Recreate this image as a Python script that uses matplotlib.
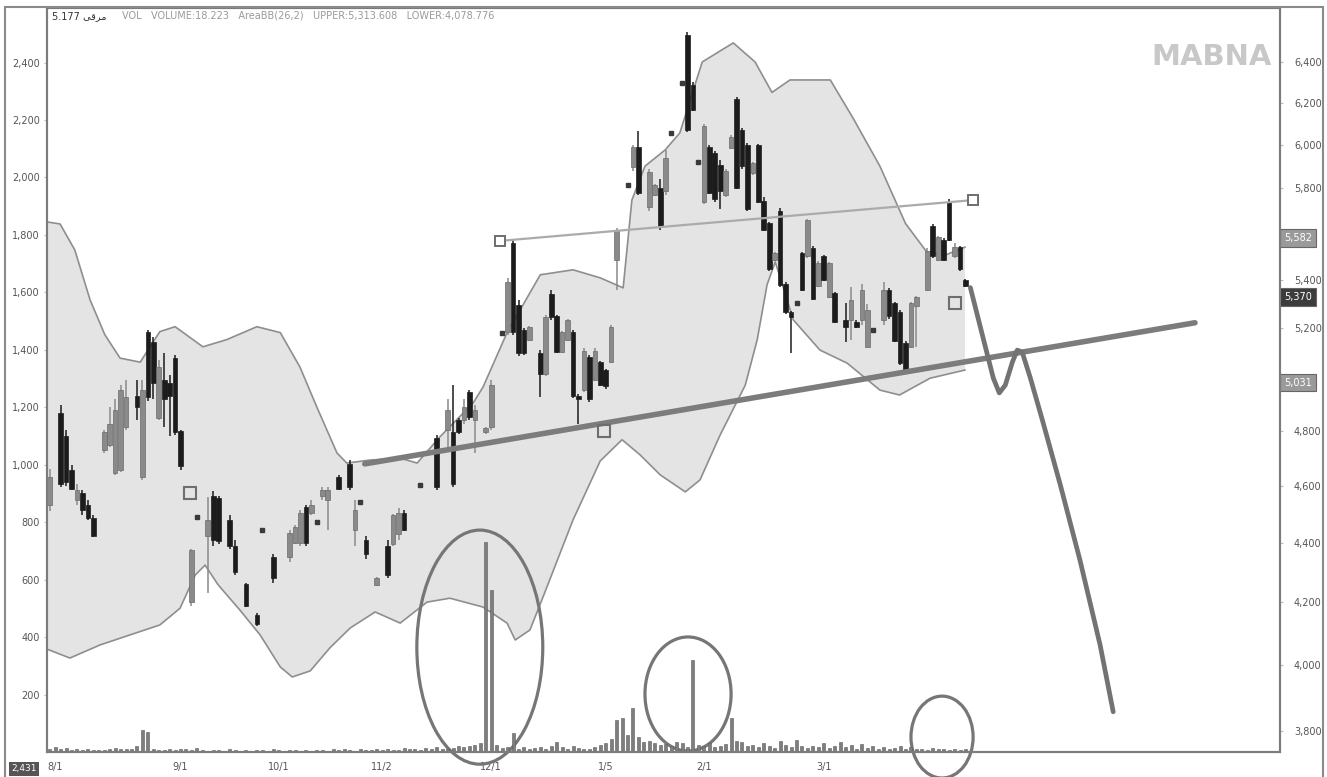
import numpy as np
import matplotlib
matplotlib.use("Agg")
import matplotlib.pyplot as plt
from matplotlib.patches import Ellipse, Rectangle
from matplotlib.ticker import FixedLocator, NullLocator, FuncFormatter

# daily candles: trading-day index and prices (right, log axis)
day = [0, 2, 3, 4, 5, 6, 7, 8,
       10, 11, 12, 13, 14, 16, 17, 18, 19, 20, 21, 22, 23, 24,
       26, 27, 29, 30, 31, 33, 34, 36, 38, 39, 41,
       44, 45, 46, 47, 48, 49, 50, 51, 53, 55, 56, 57, 58, 60, 62, 63, 64, 65, 68,
       71, 73, 74, 75, 76, 77, 78, 80, 81,
       83, 84, 85, 86, 87, 88, 90, 91, 92, 93, 94, 95, 96, 97, 98, 99, 100, 101, 102, 103, 104,
       106, 107, 108, 110, 111, 112, 113, 114, 116, 117, 118, 119, 120, 121, 122, 123, 124, 125,
       126, 127, 128, 129, 130, 131, 132, 133,
       134, 135, 136, 137, 138, 139, 140, 141, 142, 143, 144, 146, 147, 148, 149, 150, 151, 153,
       154, 155, 156, 157, 158, 159, 161, 162, 163, 164, 165, 166, 167, 168]

open_ = [4530, 4870, 4780, 4655, 4550, 4575, 4530, 4485,
         4730, 4750, 4645, 4655, 4815, 4935, 4630, 5185, 5145, 4850, 4995, 4985, 5080, 4800,
         4200, 4490, 4425, 4565, 4555, 4480, 4390, 4260, 4160, 4444, 4350,
         4350, 4400, 4400, 4525, 4505, 4472, 4565, 4550, 4630, 4680, 4445, 4542, 4410, 4258, 4390, 4395, 4430, 4505, 4603,
         4775, 4805, 4795, 4840, 4840, 4950, 4840, 4795, 4815,
         5183, 5185, 5560, 5295, 5195, 5155, 5100, 5020, 5340, 5250, 5105, 5155, 5185, 4935, 4955, 5085, 4995, 5065, 5035, 5065, 5485,
         5815, 5895, 5990, 5715, 5770, 5800, 5790, 6056, 6296, 6535, 6285, 5920, 5740, 5990, 5960, 5905, 5770, 5985,
         6220, 6070, 6000, 5870, 6000, 5745, 5645, 5485,
         5700, 5385, 5265, 5305, 5515, 5500, 5535, 5375, 5500, 5330, 5345, 5235, 5235, 5227, 5235, 5125, 5195, 5235,
         5360, 5305, 5265, 5140, 5125, 5290, 5360, 5630, 5485, 5570, 5740, 5500, 5540, 5400]

high = [4660, 4900, 4805, 4675, 4605, 4585, 4550, 4495,
        4805, 4890, 4920, 4975, 4995, 4995, 4995, 5195, 5165, 5075, 5100, 5015, 5095, 4805,
        4380, 4490, 4560, 4580, 4565, 4495, 4410, 4265, 4165, 4444, 4360,
        4445, 4460, 4515, 4530, 4550, 4472, 4595, 4595, 4640, 4695, 4550, 4542, 4425, 4285, 4410, 4500, 4520, 4515, 4603,
        4785, 4920, 4975, 4850, 4920, 4955, 4900, 4815, 4995,
        5183, 5410, 5570, 5315, 5200, 5210, 5115, 5255, 5360, 5255, 5190, 5240, 5195, 4940, 5120, 5095, 5120, 5070, 5040, 5215, 5625,
        5815, 6000, 6065, 5890, 5820, 5840, 5975, 6056, 6296, 6550, 6300, 5920, 6100, 6000, 5970, 5930, 5890, 6045,
        6230, 6080, 6010, 5920, 6005, 5760, 5650, 5520,
        5710, 5390, 5270, 5305, 5520, 5665, 5545, 5480, 5505, 5475, 5350, 5305, 5370, 5235, 5385, 5300, 5195, 5390,
        5365, 5310, 5275, 5150, 5310, 5335, 5535, 5640, 5590, 5580, 5750, 5560, 5545, 5405]

low = [4510, 4595, 4600, 4585, 4530, 4495, 4480, 4420,
       4720, 4740, 4640, 4650, 4805, 4840, 4620, 4915, 4920, 4840, 4815, 4780, 4785, 4655,
       4190, 4490, 4230, 4390, 4395, 4380, 4290, 4185, 4125, 4444, 4265,
       4335, 4395, 4390, 4390, 4495, 4472, 4550, 4445, 4585, 4585, 4390, 4542, 4345, 4255, 4280, 4390, 4410, 4440, 4603,
       4585, 4730, 4595, 4790, 4825, 4840, 4720, 4790, 4805,
       5183, 5175, 5175, 5090, 5095, 5150, 4930, 5010, 5235, 5100, 5100, 5150, 4925, 4825, 4950, 4910, 4990, 4970, 4960, 5060, 5360,
       5815, 5880, 5770, 5700, 5765, 5615, 5770, 6056, 6296, 6060, 6160, 5920, 5730, 5775, 5740, 5705, 5760, 5980,
       5795, 5890, 5700, 5860, 5735, 5610, 5440, 5480,
       5370, 5260, 5100, 5305, 5355, 5495, 5315, 5370, 5395, 5325, 5220, 5145, 5155, 5200, 5215, 5120, 5195, 5215,
       5240, 5145, 5055, 5030, 5120, 5125, 5355, 5495, 5480, 5480, 5565, 5495, 5440, 5370]

close = [4630, 4605, 4615, 4590, 4585, 4515, 4485, 4425,
         4795, 4825, 4880, 4955, 4930, 4890, 4955, 4930, 4985, 5045, 4920, 4935, 4795, 4670,
         4375, 4490, 4480, 4410, 4405, 4390, 4300, 4190, 4130, 4444, 4280,
         4435, 4455, 4505, 4400, 4530, 4472, 4585, 4585, 4590, 4595, 4515, 4542, 4360, 4280, 4290, 4495, 4505, 4445, 4603,
         4595, 4880, 4605, 4795, 4890, 4855, 4880, 4810, 4975,
         5183, 5390, 5185, 5100, 5100, 5205, 5020, 5245, 5245, 5105, 5185, 5235, 4935, 4920, 5110, 4920, 5110, 4975, 4970, 5205, 5615,
         5815, 5990, 5780, 5875, 5815, 5630, 5940, 6056, 6296, 6070, 6165, 5920, 6090, 5780, 5750, 5790, 5880, 6035,
         5800, 5900, 5705, 5915, 5740, 5615, 5445, 5515,
         5380, 5265, 5245, 5305, 5360, 5660, 5320, 5470, 5400, 5470, 5225, 5205, 5315, 5207, 5360, 5275, 5195, 5360,
         5250, 5150, 5060, 5035, 5305, 5330, 5525, 5500, 5585, 5485, 5570, 5540, 5445, 5375]

# daily volume (left axis units), one per trading day 0..168
volume = [12, 18, 10, 15, 8, 12, 6, 10, 8, 6,
          8, 10, 14, 12, 10, 9, 20, 75, 70, 12,
          8, 6, 10, 7, 12, 9, 6, 14, 8, 5,
          6, 8, 5, 10, 6, 4, 7, 5, 8, 6,
          5, 9, 6, 4, 8, 6, 5, 7, 4, 6,
          8, 5, 10, 6, 12, 7, 5, 9, 6, 8,
          10, 7, 12, 8, 6, 14, 9, 11, 8, 15,
          10, 18, 12, 9, 14, 20, 16, 22, 25, 30,
          730, 565, 25, 14, 18, 66, 12, 16, 10, 14,
          18, 12, 22, 35, 16, 10, 20, 14, 12, 9,
          18, 25, 30, 45, 110, 118, 60, 153, 52, 35,
          40, 30, 25, 28, 22, 35, 30, 18, 320, 25,
          20, 30, 18, 22, 28, 118, 40, 35, 20, 25,
          18, 30, 22, 15, 40, 25, 18, 42, 20, 15,
          22, 18, 30, 14, 20, 35, 18, 25, 12, 28,
          15, 20, 12, 18, 10, 14, 22, 12, 16, 10,
          12, 8, 14, 10, 12, 8, 10, 6, 9]

# bollinger band outline
upper_day = [-0.5, 1.9, 4.6, 7.4, 10.1, 12.9, 16.6, 20.2, 23, 28.1, 32.5, 38, 42.3, 45.9, 49,
             52.7, 54.5, 58.8, 64.3, 67.4, 71.6, 77.7, 79.5, 83.9, 90, 96, 101, 105.2, 106.8,
             109.2, 112.9, 115.6, 119.7, 125.4, 129.4, 132.5, 135.8, 143.2, 147.4, 152.3, 157,
             160.9, 164.3, 167.9]
upper_band = [5650, 5641, 5528, 5317, 5175, 5081, 5065, 5187, 5207, 5126, 5155, 5207, 5183, 5046, 4891,
              4719, 4682, 4693, 4700, 4682, 4779, 4907, 4968, 5183, 5422, 5443, 5409, 5367, 5747,
              5901, 5976, 6056, 6400, 6496, 6400, 6250, 6311, 6311, 6125, 5901, 5643,
              5519, 5506, 5540]
lower_day = [-0.5, 3.7, 9.2, 14.7, 20.2, 23.9, 26.7, 28.5, 30.9, 34.9, 38.6, 42.3, 44.5, 47.8, 51.4,
             55.1, 59.7, 64.3, 69.2, 73.4, 79.5, 83.9, 85.4, 88.1, 90.5, 96, 101, 105, 108.3,
             112, 116.6, 119.3, 123, 127.6, 129.8, 131.6, 133.1, 136.4, 141.3, 146.3, 152.3,
             155.9, 161.5, 167.9]
lower_band = [4050, 4022, 4063, 4095, 4127, 4181, 4291, 4324, 4258, 4175, 4095, 3994, 3963, 3982, 4054,
              4117, 4169, 4133, 4201, 4214, 4185, 4133, 4079, 4111, 4218, 4479, 4690, 4768, 4712,
              4639, 4578, 4621, 4786, 4975, 5155, 5380, 5477, 5235, 5113, 5061, 4956,
              4937, 5002, 5034]

# hand-drawn analysis marks
support_day = [57.8, 210.1]
support_price = [4679, 5223]
resist_day = [82.6, 169.4]
resist_price = [5567, 5747]
mark_day = [25.7, 101.7, 166.1]
mark_price = [4574, 4801, 5305]
proj_day = [168.9, 170.3, 171.8, 173.1, 174.2, 175.3, 176.6, 177.5, 178.4, 179.9, 182.1,
            185.4, 189.0, 192.7, 195.1]
proj_price = [5368, 5243, 5113, 5003, 4945, 4975, 5065, 5113, 5105, 5003, 4842,
              4603, 4341, 4063, 3857]
ring_day = [78.9, 117.1, 163.7]
ring_vol = [365, 202, 52]
ring_w = [23.1, 15.8, 11.4]
ring_h = [815, 397, 285]

date_pos = [1, 24, 42, 61, 81, 102, 120, 142]
date_labels = ['8/1', '9/1', '10/1', '11/2', '12/1', '1/5', '2/1', '3/1']
price_ticks = [3800, 4000, 4200, 4400, 4600, 4800, 5200, 5400, 5800, 6000, 6200, 6400]
vol_ticks = [200, 400, 600, 800, 1000, 1200, 1400, 1600, 1800, 2000, 2200, 2400]
tag_price = [5580, 5330, 4985]
tag_text = ['5,582', '5,370', '5,031']
tag_color = ['#9a9a9a', '#3c3c3c', '#9a9a9a']

assert len(day) == len(open_) == len(high) == len(low) == len(close)

W, H = 1327, 777
fig = plt.figure(figsize=(W / 100, H / 100), dpi=100)
rect = [47 / W, 25 / H, 1233 / W, 744 / H]
ax = fig.add_axes(rect)
axv = ax.twinx()
ax.yaxis.tick_right()
axv.yaxis.tick_left()
axv.yaxis.set_label_position('left')

ax.set_yscale('log')
ax.set_ylim(3738, 6675)
ax.set_xlim(-0.5, 225.7)
axv.set_ylim(0, 2590)

# band
bx = upper_day + lower_day[::-1]
by = upper_band + lower_band[::-1]
ax.fill(bx, by, color='#e4e4e4', lw=0, zorder=0)
ax.plot(upper_day, upper_band, color='#8e8e8e', lw=1.2, zorder=1)
ax.plot(lower_day, lower_band, color='#8e8e8e', lw=1.2, zorder=1)

# candles
d = np.array(day, dtype=float)
o = np.array(open_, dtype=float)
h = np.array(high, dtype=float)
l = np.array(low, dtype=float)
c = np.array(close, dtype=float)
dot = h == l
rising = c >= o
col = np.where(rising, '#8a8a8a', '#1c1c1c')
bar = ~dot
ax.vlines(d[bar], l[bar], h[bar], colors=col[bar], lw=1.1, zorder=3)
ax.bar(d[bar], np.abs(c - o)[bar], bottom=np.minimum(o, c)[bar], width=0.85,
       color=col[bar], edgecolor=np.where(rising, '#6a6a6a', '#1c1c1c')[bar], lw=0.5, zorder=4)
ax.plot(d[dot], c[dot], 's', ms=2.6, color='#3a3a3a', zorder=4)

# trend lines and marks
ax.plot(resist_day, resist_price, color='#ababab', lw=1.6, zorder=5)
ax.plot(resist_day, resist_price, 's', ms=7, mfc='white', mec='#6e6e6e', mew=1.4, zorder=6)
ax.plot(mark_day, mark_price, 's', ms=9, mfc='none', mec='#6e6e6e', mew=1.5, zorder=6)
ax.plot(support_day, support_price, color='#7c7c7c', lw=4, solid_capstyle='round', zorder=5)
ax.plot(proj_day, proj_price, color='#737373', lw=3.4, solid_capstyle='round',
        solid_joinstyle='round', zorder=5)

# volume
axv.bar(range(len(volume)), volume, width=0.55, color='#7e7e7e', edgecolor='#5a5a5a',
        lw=0.4, zorder=2)
for cx, cy, ew, eh in zip(ring_day, ring_vol, ring_w, ring_h):
    axv.add_patch(Ellipse((cx, cy), ew, eh, fill=False, ec='#767676', lw=2.3, clip_on=False))

# axes styling
fmt = FuncFormatter(lambda v, p: f'{int(round(v)):,}')
ax.yaxis.set_major_locator(FixedLocator(price_ticks))
ax.yaxis.set_minor_locator(NullLocator())
ax.yaxis.set_major_formatter(fmt)
ax.yaxis.set_minor_formatter(FuncFormatter(lambda v, p: ''))
ax.tick_params(axis='y', which='both', right=True, left=False, labelright=True, labelleft=False,
               labelsize=7, labelcolor='#555555', color='#bbbbbb', length=2, pad=8)
axv.set_yticks(vol_ticks)
axv.yaxis.set_major_formatter(fmt)
axv.tick_params(axis='y', left=True, right=False, labelleft=True, labelright=False,
                labelsize=7, labelcolor='#555555', color='#bbbbbb', length=2, pad=3)
ax.set_xticks(date_pos)
ax.set_xticklabels(date_labels)
ax.tick_params(axis='x', length=0, labelsize=7, labelcolor='#555555', pad=7)
for a in (ax, axv):
    for s in a.spines.values():
        s.set_color('#7c7c7c')
        s.set_linewidth(1.5)

# price tags on the right scale
for p, t, fc in zip(tag_price, tag_text, tag_color):
    ax.text(1.0 + 4 / 1233, p, t, transform=ax.get_yaxis_transform(), ha='left', va='center',
            fontsize=7, color='white', zorder=10, clip_on=False,
            bbox=dict(boxstyle='square,pad=0.4', fc=fc, ec='#666666', lw=0.8))

# outer frame
fig.patches.append(Rectangle((5 / W, -0.01), 1318 / W, 1.01 - 7 / H, transform=fig.transFigure,
                             fill=False, ec='#8a8a8a', lw=1.5))

# symbol name written in visual order with joined letter forms
fig.text(52 / W, 1 - 16 / H, '5.177 \ufef0\ufed7\ufeae\ufee3', fontsize=7, color='#333333',
         va='center', family=['DejaVu Sans'])
fig.text(122 / W, 1 - 16 / H,
         'VOL   VOLUME:18.223   AreaBB(26,2)   UPPER:5,313.608   LOWER:4,078.776',
         fontsize=7, color='#9a9a9a', va='center')
fig.text(1212 / W, 1 - 57 / H, 'MABNA', fontsize=21, fontweight='bold', color='#c8c8c8',
         ha='center', va='center')
fig.text(24 / W, 1 - 769 / H, '2,431', fontsize=6.5, color='white', ha='center', va='center',
         bbox=dict(boxstyle='square,pad=0.3', fc='#555555', ec='none'))

fig.savefig('out.png', dpi=100)
